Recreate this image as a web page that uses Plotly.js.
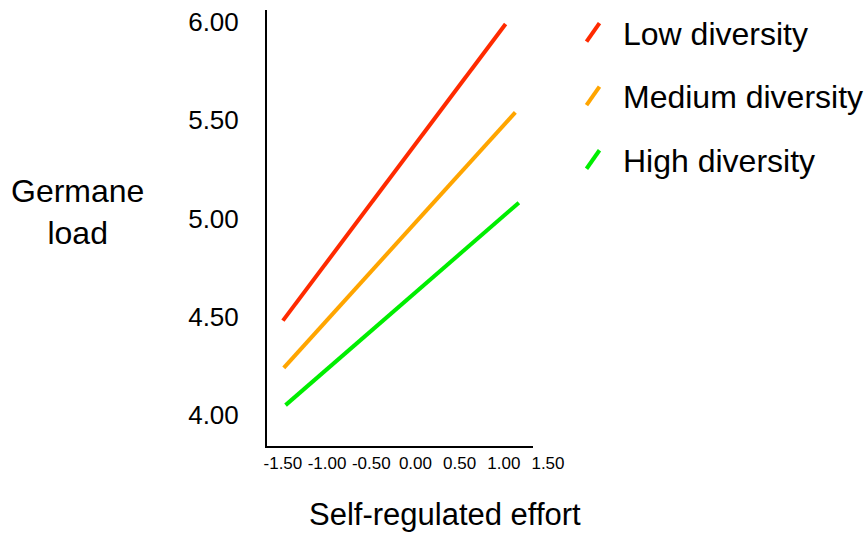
<!DOCTYPE html>
<html>
<head>
<meta charset="utf-8">
<script src="https://cdn.plot.ly/plotly-3.0.1.min.js"></script>
<style>html,body{margin:0;padding:0;background:#fff;}#chart{width:866px;height:533px;}</style>
</head>
<body>
<div id="chart"></div>
<script>
// Data
var seriesNames = ['Low diversity', 'Medium diversity', 'High diversity'];
var lowEffort = [-1.5, 1.02];
var lowLoad = [4.48, 5.99];
var mediumEffort = [-1.49, 1.13];
var mediumLoad = [4.24, 5.54];
var highEffort = [-1.47, 1.17];
var highLoad = [4.05, 5.08];
var xTickValues = [-1.5, -1.0, -0.5, 0.0, 0.5, 1.0, 1.5];
var xTickLabels = ['-1.50', '-1.00', '-0.50', '0.00', '0.50', '1.00', '1.50'];
var yTickValues = [4.0, 4.5, 5.0, 5.5, 6.0];
var yTickLabels = ['4.00', '4.50', '5.00', '5.50', '6.00'];

var colors = ['#ff2a00', '#ffa500', '#00ee00'];
var FONT = 'Liberation Sans, Arial, sans-serif';

var xs = [lowEffort, mediumEffort, highEffort];
var ys = [lowLoad, mediumLoad, highLoad];

var traces = [];
for (var i = 0; i < 3; i++) {
  traces.push({
    type: 'scatter', mode: 'lines', x: xs[i], y: ys[i],
    line: {color: colors[i], width: 4},
    showlegend: false, hoverinfo: 'skip', xaxis: 'x', yaxis: 'y'
  });
}
// legend entries with diagonal glyphs
for (var j = 0; j < 3; j++) {
  traces.push({
    type: 'scatter', mode: 'markers', x: [null], y: [null],
    name: seriesNames[j], legendgroup: 'g' + j,
    marker: {symbol: 'line-ne-open', size: 24, angle: -10, color: colors[j], line: {color: colors[j], width: 4}},
    xaxis: 'x2', yaxis: 'y'
  });
}

var W = 866 - 267; // plot width
var H = 446 - 10;
function px2x(p) { return (p - 267) / W; }
function px2y(p) { return (446 - p) / H; }

var layout = {
  width: 866, height: 533,
  margin: {l: 267, r: 0, t: 10, b: 87, pad: 0, autoexpand: false},
  paper_bgcolor: '#fff', plot_bgcolor: 'rgba(0,0,0,0)',
  font: {family: FONT, color: '#000'},
  showlegend: true,
  legend: {
    x: px2x(563), y: px2y(5), xanchor: 'left', yanchor: 'top',
    font: {family: FONT, size: 32, color: '#000'},
    tracegroupgap: 19, itemsizing: 'trace', itemwidth: 50, bgcolor: 'rgba(0,0,0,0)'
  },
  xaxis: {
    domain: [0, px2x(533)], range: [-1.68, 1.33],
    showline: true, linecolor: '#000', linewidth: 2,
    showgrid: false, zeroline: false, showticklabels: false, ticks: ''
  },
  xaxis2: {
    domain: [0, px2x(560)], range: [-1.68, 1.636],
    anchor: 'free', position: 0,
    showline: false, showgrid: false, zeroline: false, ticks: '',
    tickmode: 'array', tickvals: xTickValues, ticktext: xTickLabels,
    tickfont: {family: FONT, size: 17, color: '#000'},
    ticklabelstandoff: 5
  },
  yaxis: {
    range: [3.842, 6.061],
    showline: true, linecolor: '#000', linewidth: 2,
    showgrid: false, zeroline: false, ticks: '',
    tickmode: 'array', tickvals: yTickValues, ticktext: yTickLabels,
    tickfont: {family: FONT, size: 26, color: '#000'},
    ticklabelstandoff: 21
  },
  annotations: [
    {text: 'Germane<br>load', xref: 'paper', yref: 'paper', x: px2x(77), y: px2y(212),
     xanchor: 'center', yanchor: 'middle', showarrow: false, align: 'center',
     font: {family: FONT, size: 32, color: '#000'}},
    {text: 'Self-regulated effort', xref: 'paper', yref: 'paper', x: px2x(445), y: px2y(514),
     xanchor: 'center', yanchor: 'middle', showarrow: false,
     font: {family: FONT, size: 31, color: '#000'}}
  ]
};

Plotly.newPlot('chart', traces, layout, {staticPlot: true, displayModeBar: false});
</script>
</body>
</html>
